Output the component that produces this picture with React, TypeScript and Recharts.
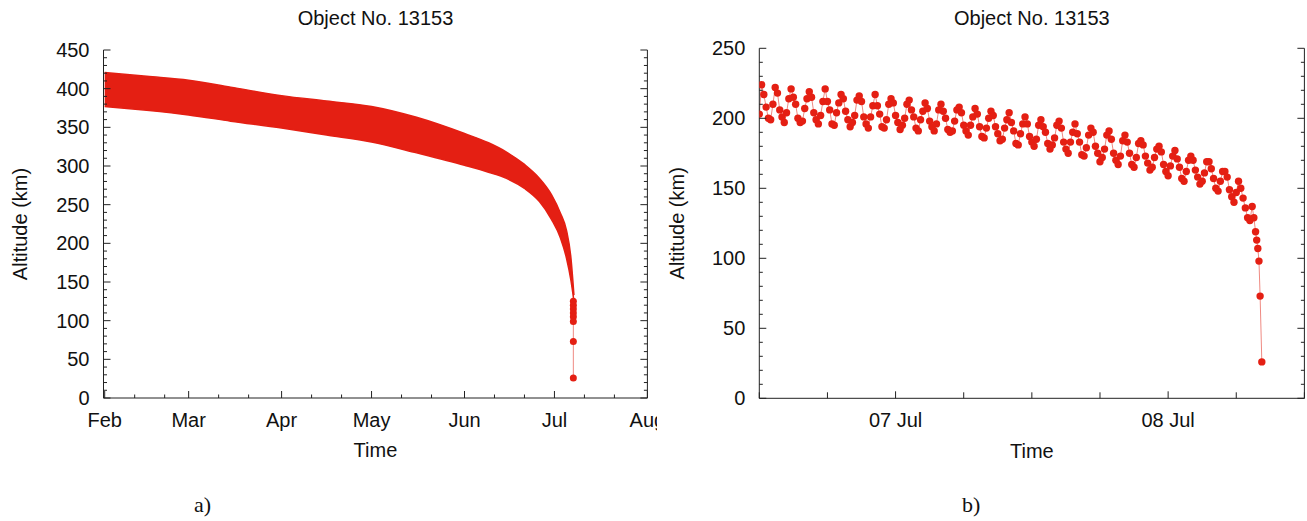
import React from 'react';
import { ComposedChart, Area, Line, Scatter, XAxis, YAxis } from 'recharts';

const RED = '#e41f13';
const LINE_RED = '#ef8a82';
const AXIS = '#222';
const FONT = '"Liberation Sans", Arial, Helvetica, sans-serif';
const TITLE = 'Object No. 13153';

// ---- panel a: days since 1 Feb ----
const bandDay = [0, 14, 28, 42, 59, 74, 89, 104, 120, 128, 134, 140, 145, 149, 152, 154, 155.5, 156.5];
const bandHigh = [421, 416, 411, 402, 391, 384, 377, 363, 342, 330, 318, 302, 284, 263, 239, 217, 181, 133];
const bandLow = [377, 372, 366, 358, 349, 340, 331, 317, 301, 292, 284, 271, 254, 231, 207, 181, 152, 125];
const END_DAY = 156.3;
const endAlt = [125, 120, 115, 110, 105, 99, 73, 26];

const monthDays = [0, 28, 59, 89, 120, 150, 181];
const monthNames = ['Feb', 'Mar', 'Apr', 'May', 'Jun', 'Jul', 'Aug'];
const minorDays = [10, 20, 38, 48, 69, 79, 99, 109, 130, 140, 160, 170];

// ---- panel b: hours since 06 Jul 12:00, sampled every 12 min (one row per orbit) ----
const STEP_H = 0.2;
const rightAlt = [
  203, 224, 217, 208, 200, 199, 210,
  222, 218, 206, 201, 197, 204, 214,
  221, 215, 210, 200, 197, 198, 207, 214,
  219, 215, 204, 199, 196, 202, 212,
  221, 212, 206, 196, 195, 204, 211,
  217, 214, 205, 199, 194, 197, 202, 213,
  216, 212, 201, 196, 193, 201, 209,
  217, 209, 203, 194, 193, 199, 210,
  214, 211, 202, 197, 192, 195, 200, 210,
  213, 206, 201, 193, 191, 199, 205,
  211, 207, 198, 194, 191, 196, 206,
  210, 205, 200, 192, 190, 191, 198, 206,
  208, 204, 195, 191, 188, 195, 201,
  207, 203, 194, 187, 186, 193, 200,
  205, 202, 194, 189, 184, 185, 193, 199,
  204, 197, 191, 182, 181, 189, 196,
  201, 196, 187, 183, 180, 185, 195,
  199, 194, 190, 182, 178, 181, 186, 195,
  198, 193, 183, 178, 175, 183, 190,
  196, 189, 183, 174, 173, 179, 188,
  193, 190, 180, 175, 169, 172, 178, 188,
  191, 185, 175, 170, 167, 173, 184,
  188, 183, 175, 167, 165, 172, 182,
  184, 181, 173, 168, 163, 165, 172, 178,
  180, 176, 167, 162, 159, 166, 173,
  177, 171, 165, 157, 155, 162, 170,
  173, 170, 163, 158, 153, 155, 161, 169,
  169, 164, 157, 150, 148, 155, 162,
  162, 158, 149, 144, 140, 147, 155,
  150, 143, 136, 129, 127,
];
const tailHour = [43.4, 43.55, 43.7, 43.8, 43.9, 44.0, 44.1, 44.25];
const tailAlt = [137, 129, 119, 113, 107, 98, 73, 26];

const hourTicks = [0, 6, 12, 18, 24, 30, 36, 42, 48];
const hourLabels: Record<number, string> = { 12: '07 Jul', 36: '08 Jul' };

const leftYTicks = Array.from({ length: 46 }, (_, i) => i * 10);
const rightYTicks = Array.from({ length: 26 }, (_, i) => i * 10);

const bandRows = bandDay.map((d, i) => ({ d, range: [bandLow[i], bandHigh[i]] }));
const endRows = endAlt.map((alt) => ({ d: END_DAY, alt }));
const rightRows = [
  ...rightAlt.map((alt, i) => ({ h: i * STEP_H, alt })),
  ...tailHour.map((h, i) => ({ h, alt: tailAlt[i] })),
];

const txt = { fontFamily: FONT, fontSize: 20, fill: '#111' };

const makeTick =
  (side: 'bottom' | 'top' | 'left' | 'right', len: (v: number) => number, label?: (v: number) => string | undefined) =>
  (props: any) => {
    const { x, y, payload } = props;
    const v = payload.value;
    const l = len(v);
    const s = label ? label(v) : undefined;
    if (side === 'bottom')
      return (
        <g>
          <line x1={x} y1={y} x2={x} y2={y - l} stroke={AXIS} />
          {s && (
            <text x={x} y={y + 22} textAnchor="middle" dominantBaseline="central" {...txt}>
              {s}
            </text>
          )}
        </g>
      );
    if (side === 'top') return <line x1={x} y1={y} x2={x} y2={y + l} stroke={AXIS} />;
    if (side === 'left')
      return (
        <g>
          <line x1={x} y1={y} x2={x + l} y2={y} stroke={AXIS} />
          {s && (
            <text x={x - 14} y={y} textAnchor="end" dominantBaseline="central" {...txt}>
              {s}
            </text>
          )}
        </g>
      );
    return <line x1={x} y1={y} x2={x - l} y2={y} stroke={AXIS} />;
  };

const monthLabel = (v: number) => {
  const i = monthDays.indexOf(v);
  return i >= 0 ? monthNames[i] : undefined;
};
const dayLen = (v: number) => (monthDays.includes(v) ? 7 : 3.5);
const altLen = (v: number) => (v % 50 === 0 ? 7 : 3.5);
const altLabel = (v: number) => (v % 50 === 0 ? String(v) : undefined);
const hourLen = (v: number) => (hourLabels[v] ? 7 : 6);

const axisLine = { stroke: AXIS, strokeWidth: 1 };
const leftXDomain: [number, number] = [-0.4, 181];
const leftXTicks = [...monthDays, ...minorDays].sort((a, b) => a - b);

const Title = ({ left, width }: { left: number; width: number }) => (
  <div
    style={{
      position: 'absolute',
      left,
      width,
      top: 8,
      textAlign: 'center',
      fontFamily: FONT,
      fontSize: 20,
      lineHeight: '20px',
      color: '#111',
    }}
  >
    {TITLE}
  </div>
);

const PanelA = () => (
  <ComposedChart width={657} height={470} data={bandRows} margin={{ top: 50, right: 0, bottom: 0, left: 0 }}>
    <XAxis
      dataKey="d"
      type="number"
      domain={leftXDomain}
      ticks={leftXTicks}
      interval={0}
      allowDataOverflow
      height={72}
      tickSize={0}
      tickMargin={0}
      tickLine={false}
      axisLine={axisLine}
      tick={makeTick('bottom', dayLen, monthLabel)}
      label={{ value: 'Time', position: 'insideBottom', offset: 13, style: txt }}
    />
    <XAxis
      xAxisId="top"
      orientation="top"
      type="number"
      domain={leftXDomain}
      ticks={leftXTicks}
      interval={0}
      allowDataOverflow
      height={0}
      tickSize={0}
      tickMargin={0}
      tickLine={false}
      axisLine={axisLine}
      tick={makeTick('top', dayLen)}
    />
    <YAxis
      type="number"
      domain={[0, 450]}
      ticks={leftYTicks}
      interval={0}
      allowDataOverflow
      width={103.5}
      tickSize={0}
      tickMargin={0}
      tickLine={false}
      axisLine={axisLine}
      tick={makeTick('left', altLen, altLabel)}
      label={{ value: 'Altitude (km)', angle: -90, position: 'insideLeft', offset: 20, style: { ...txt, textAnchor: 'middle' } }}
    />
    <YAxis
      yAxisId="r"
      orientation="right"
      type="number"
      domain={[0, 450]}
      ticks={leftYTicks}
      interval={0}
      allowDataOverflow
      width={9.6}
      tickSize={0}
      tickMargin={0}
      tickLine={false}
      axisLine={axisLine}
      tick={makeTick('right', altLen)}
    />
    <Area
      type="monotone"
      dataKey="range"
      fill={RED}
      fillOpacity={1}
      stroke={RED}
      strokeWidth={1.5}
      dot={false}
      activeDot={false}
      isAnimationActive={false}
    />
    <Scatter
      data={endRows}
      dataKey="alt"
      fill={RED}
      line={{ stroke: LINE_RED, strokeWidth: 1 }}
      shape={(p: any) => <circle cx={p.cx} cy={p.cy} r={3.5} fill={RED} />}
      isAnimationActive={false}
    />
  </ComposedChart>
);

const PanelB = () => (
  <ComposedChart width={647} height={470} data={rightRows} margin={{ top: 48.3, right: 0, bottom: 0, left: 0 }}>
    <XAxis
      dataKey="h"
      type="number"
      domain={[0, 48]}
      ticks={hourTicks}
      interval={0}
      allowDataOverflow
      height={71.7}
      tickSize={0}
      tickMargin={0}
      tickLine={false}
      axisLine={axisLine}
      tick={makeTick('bottom', hourLen, (v) => hourLabels[v])}
      label={{ value: 'Time', position: 'insideBottom', offset: 12, style: txt }}
    />
    <XAxis
      xAxisId="top"
      orientation="top"
      type="number"
      domain={[0, 48]}
      ticks={hourTicks}
      interval={0}
      allowDataOverflow
      height={0}
      tickSize={0}
      tickMargin={0}
      tickLine={false}
      axisLine={axisLine}
      tick={makeTick('top', hourLen)}
    />
    <YAxis
      type="number"
      domain={[0, 250]}
      ticks={rightYTicks}
      interval={0}
      allowDataOverflow
      width={99.3}
      tickSize={0}
      tickMargin={0}
      tickLine={false}
      axisLine={axisLine}
      tick={makeTick('left', altLen, altLabel)}
      label={{ value: 'Altitude (km)', angle: -90, position: 'insideLeft', offset: 17, style: { ...txt, textAnchor: 'middle' } }}
    />
    <YAxis
      yAxisId="r"
      orientation="right"
      type="number"
      domain={[0, 250]}
      ticks={rightYTicks}
      interval={0}
      allowDataOverflow
      width={2.6}
      tickSize={0}
      tickMargin={0}
      tickLine={false}
      axisLine={axisLine}
      tick={makeTick('right', altLen)}
    />
    <Line
      type="linear"
      dataKey="alt"
      stroke={LINE_RED}
      strokeWidth={1}
      dot={{ r: 3.7, fill: RED, stroke: 'none' }}
      activeDot={false}
      isAnimationActive={false}
    />
  </ComposedChart>
);

const caption = {
  position: 'absolute' as const,
  top: 492,
  fontFamily: '"Liberation Serif", "Times New Roman", serif',
  fontSize: 22,
  lineHeight: '26px',
  color: '#111',
};

export default function App() {
  return (
    <div style={{ position: 'absolute', left: 0, top: 0, width: 1307, height: 521, background: '#fff' }}>
      <div style={{ position: 'absolute', left: 0, top: 0, width: 657, height: 470, overflow: 'hidden' }}>
        <PanelA />
      </div>
      <Title left={103.5} width={544} />
      <div style={{ position: 'absolute', left: 660, top: 0, width: 647, height: 470, overflow: 'hidden' }}>
        <PanelB />
      </div>
      <Title left={759.3} width={545} />
      <div style={{ ...caption, left: 194 }}>a)</div>
      <div style={{ ...caption, left: 962 }}>b)</div>
    </div>
  );
}
